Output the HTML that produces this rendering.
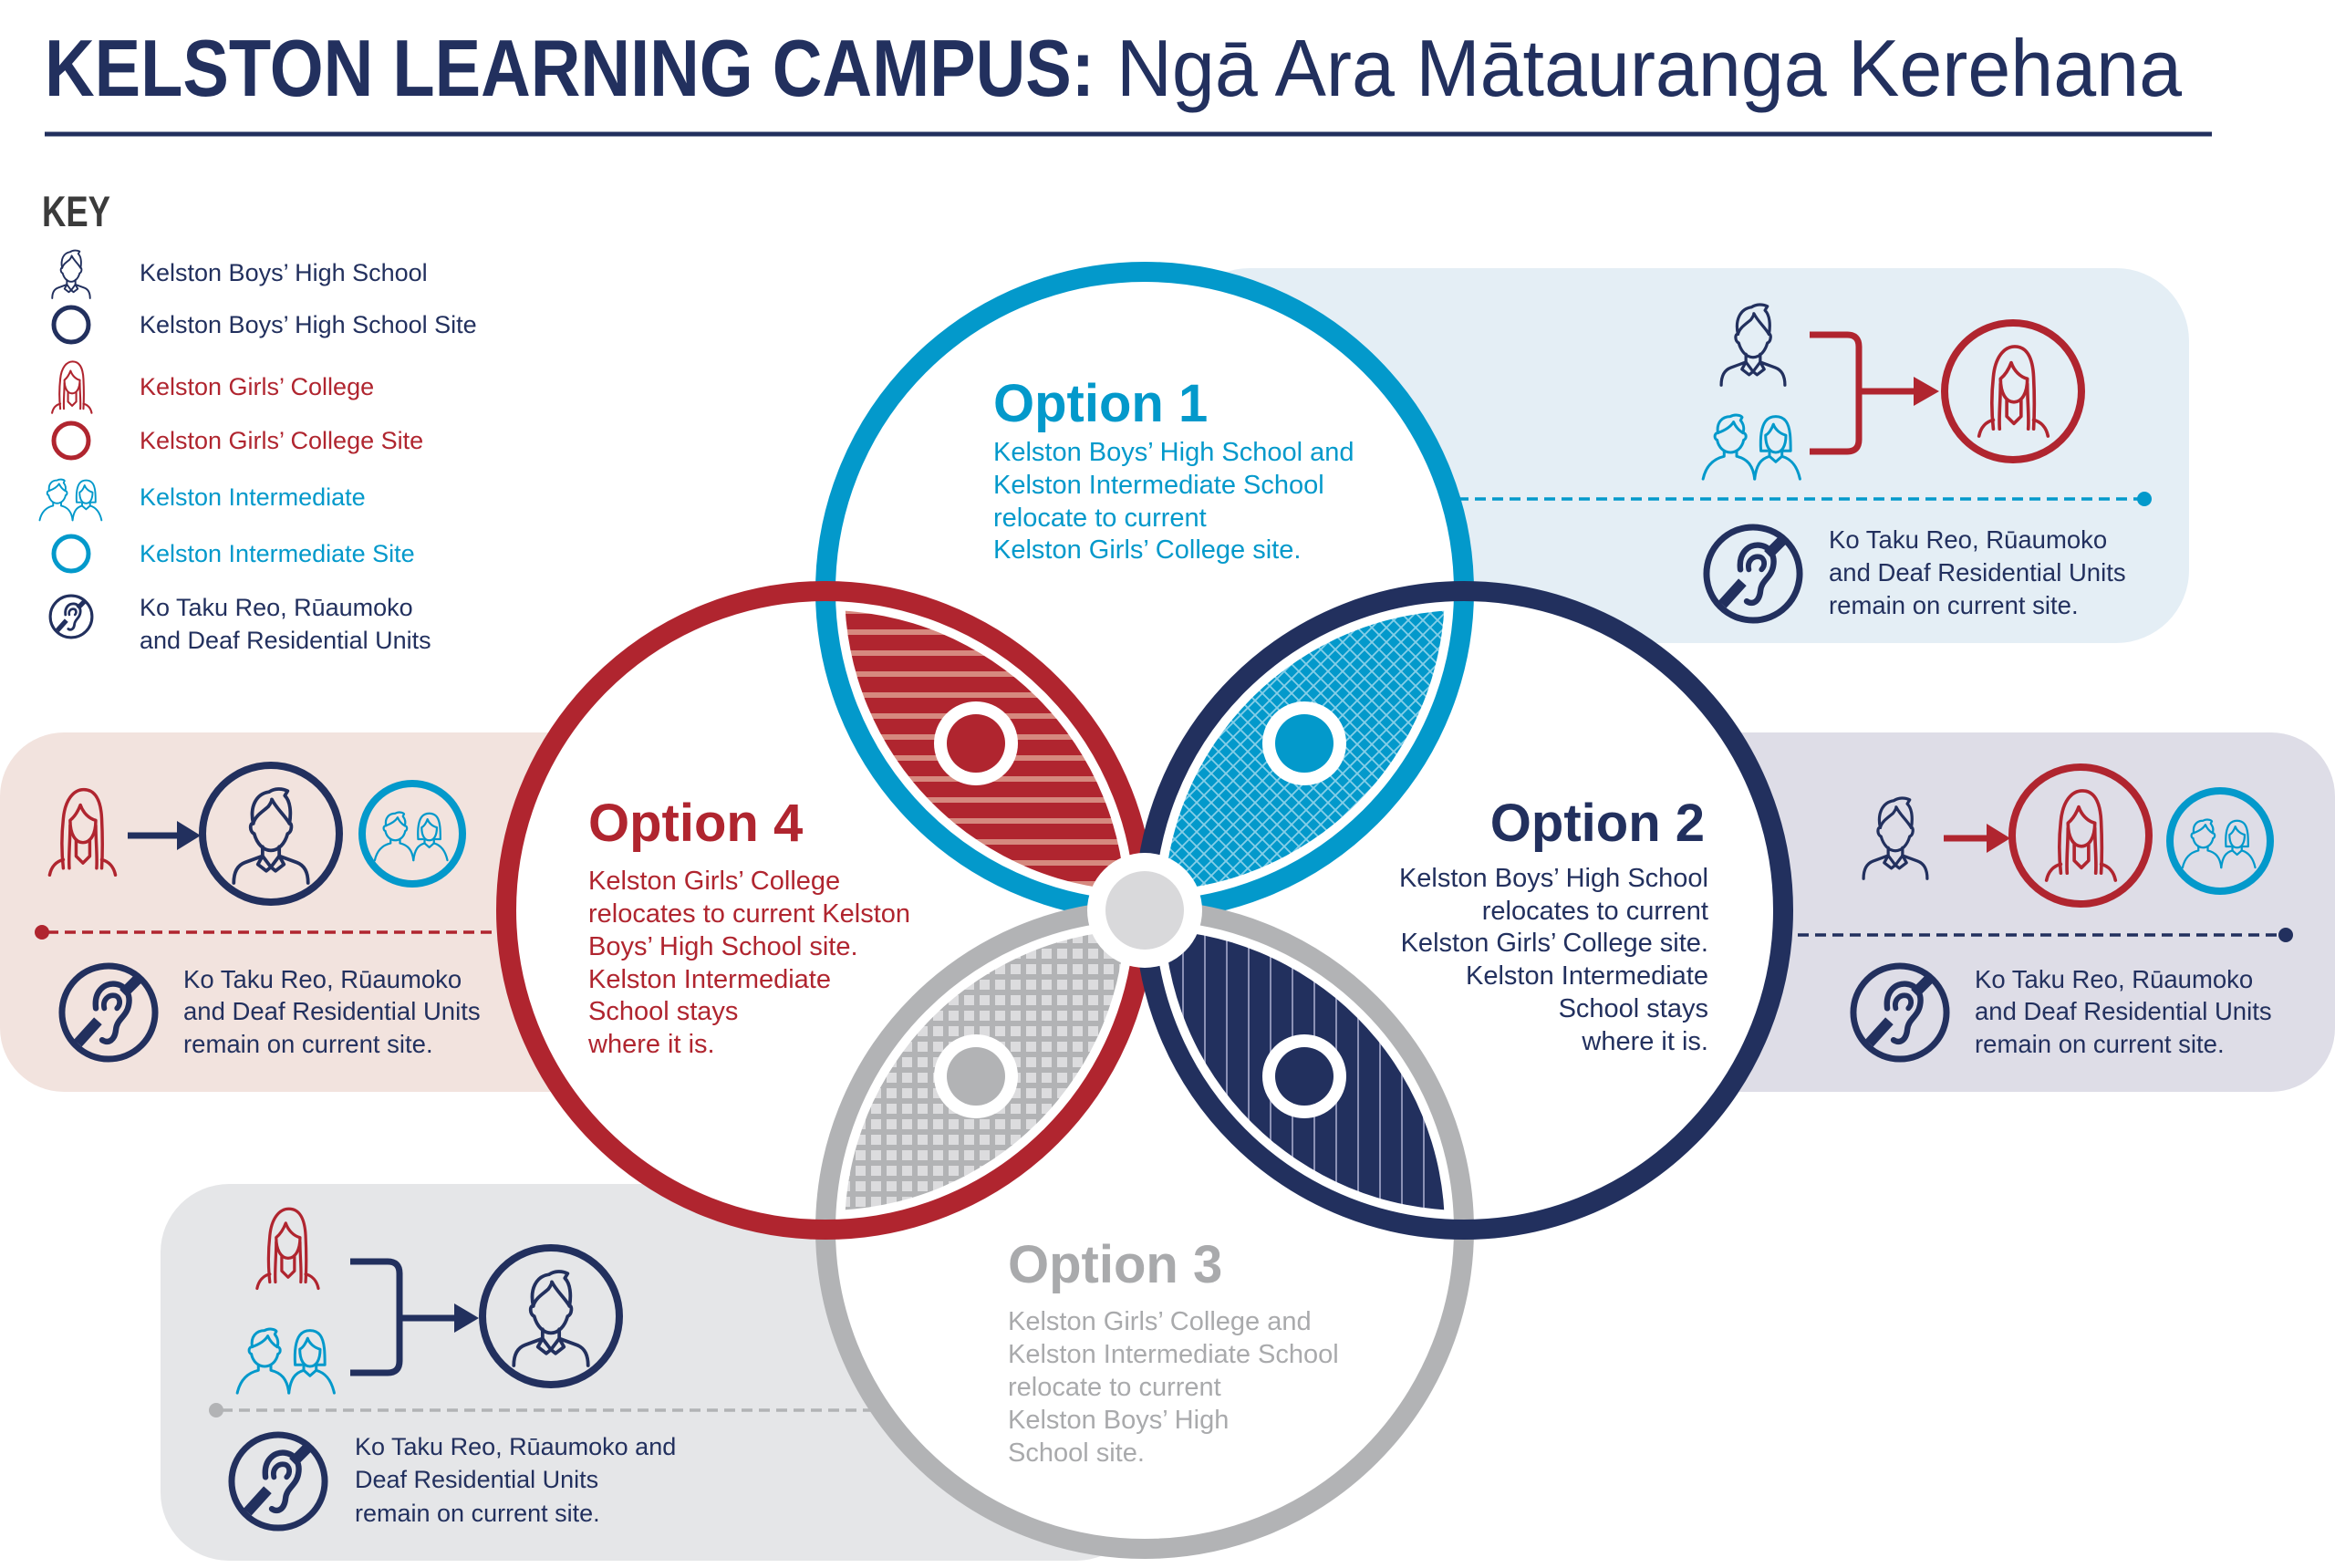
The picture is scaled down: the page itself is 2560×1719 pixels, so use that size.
<!DOCTYPE html>
<html><head><meta charset="utf-8"><title>Kelston Learning Campus</title><style>
html,body{margin:0;padding:0;background:#fff;}
svg{display:block;font-family:"Liberation Sans",sans-serif;}
</style></head><body>
<svg xmlns="http://www.w3.org/2000/svg" width="2560" height="1719" viewBox="0 0 2560 1719">
<defs>
 <symbol id="boy" viewBox="0 0 100 110" overflow="visible">
  <g fill="none" stroke="currentColor" stroke-width="3.7" stroke-linecap="round" stroke-linejoin="round">
   <path d="M31 44 C27 26 34 12 48 10 C54 6 62 6 68 9 L65 14 C71 20 72 32 70 44"/>
   <path d="M31 44 C33 36 40 32 47 26 C50 22 51 20 51 18 C56 28 64 34 70 44"/>
   <path d="M31 44 C27 43 27 53 32 55 C35 66 42 73 50 73 C58 73 65 66 68 55 C73 53 73 43 70 44"/>
   <path d="M41 69 V79 M59 69 V79"/>
   <path d="M41 79 L50 91 L59 79 M41 79 L36 88 L45 95 L50 91 L55 95 L64 88 L59 79"/>
   <path d="M41 79 L22 86 C14 89 10 96 10 108 M59 79 L78 86 C86 89 90 96 90 108"/>
  </g>
 </symbol>
 <symbol id="girl" viewBox="0 0 100 110" overflow="visible">
  <g fill="none" stroke="currentColor" stroke-width="3.7" stroke-linecap="round" stroke-linejoin="round">
   <path d="M28 98 C26 80 26 58 28 40 C30 18 40 6 52 6 C65 6 72 18 73 40 C74 60 74 80 73 98"/>
   <path d="M36 48 C36 66 34 84 35 98 M66 48 C66 66 68 84 67 98"/>
   <path d="M36 42 C36 58 42 68 51 68 C60 68 66 58 66 42 C58 40 51 33 48 24 C45 32 41 38 36 42 Z"/>
   <path d="M43 66 V84 L51 92 L59 84 V66"/>
   <path d="M28 88 C20 90 14 96 12 106 M73 88 C81 90 87 96 89 106"/>
  </g>
 </symbol>
 <symbol id="kids" viewBox="0 0 140 95" overflow="visible">
  <g fill="none" stroke="currentColor" stroke-width="3.5" stroke-linecap="round" stroke-linejoin="round">
   <path d="M24 42 C20 41 20 33 25 33 C23 20 30 12 41 12 C46 9 54 10 56 13 L54 17 C58 22 59 28 57 33 C62 33 62 41 58 42 C56 52 49 58 41 58 C33 58 26 52 24 42 Z"/>
   <path d="M25 33 C33 30 41 26 45 19 C48 26 52 30 57 33"/>
   <path d="M33 56 V63 C20 66 10 74 6 92 M49 56 V63 C62 66 70 74 72 92"/>
   <path d="M80 56 C79 40 80 26 86 18 C92 10 106 10 112 18 C118 26 118 42 118 56 H108 M80 56 H88"/>
   <path d="M86 36 C86 50 91 58 99 58 C107 58 112 50 112 36 C104 34 98 28 96 22 C94 28 90 34 86 36 Z"/>
   <path d="M91 57 V63 C80 66 74 74 72 92 M107 57 V63 C118 66 126 74 130 92"/>
   <path d="M91 63 L99 70 L107 63"/>
  </g>
 </symbol>
 <symbol id="deaf" viewBox="0 0 100 100" overflow="visible">
  <g fill="none" stroke="currentColor" stroke-linejoin="round">
   <circle cx="50" cy="50" r="44" stroke-width="6"/>
   <path d="M38 46 C36 30 46 22 56 23 C66 24 71 33 69 43 C67 54 58 56 57 66 C56 76 50 80 44 76" stroke-width="5.5" stroke-linecap="round"/>
   <path d="M46 46 C44 38 50 33 56 34 C61 35 62 42 58 46" stroke-width="5" stroke-linecap="round"/>
   <path d="M21 79 L40 58" stroke-width="10"/>
   <path d="M64 32 L79 17" stroke-width="10"/>
  </g>
 </symbol>

 <pattern id="pRed" patternUnits="userSpaceOnUse" width="23" height="23">
  <rect width="23" height="23" fill="#b0252f"/><rect y="0" width="23" height="6" fill="#d6897f"/>
 </pattern>
 <pattern id="pBlue" patternUnits="userSpaceOnUse" width="16" height="16">
  <rect width="16" height="16" fill="#0399cb"/>
  <path d="M0 0 L16 16 M16 0 L0 16" stroke="#86cfe8" stroke-width="1.8"/>
 </pattern>
 <pattern id="pNavy" patternUnits="userSpaceOnUse" width="24" height="10">
  <rect width="24" height="10" fill="#22305e"/><rect x="0" width="2" height="10" fill="#8b91b5"/>
 </pattern>
 <pattern id="pGray" patternUnits="userSpaceOnUse" width="17" height="17">
  <rect width="17" height="17" fill="#b2b3b5"/><rect x="3" y="3" width="11" height="11" fill="#dcdcde"/>
 </pattern>

 <clipPath id="cT"><circle cx="1255" cy="648" r="329"/></clipPath>
 <clipPath id="cR"><circle cx="1605" cy="998" r="329"/></clipPath>
 <clipPath id="cB"><circle cx="1255" cy="1348" r="329"/></clipPath>
 <clipPath id="cL"><circle cx="905" cy="998" r="329"/></clipPath>
</defs>

<rect width="2560" height="1719" fill="#fff"/>

<!-- Title -->
<text x="49" y="105" font-weight="bold" font-size="88" fill="#22305e" textLength="1151" lengthAdjust="spacingAndGlyphs">KELSTON LEARNING CAMPUS:</text>
<text x="1224" y="105" font-size="88" fill="#22305e" textLength="1168" lengthAdjust="spacingAndGlyphs">Ngā Ara Mātauranga Kerehana</text>
<line x1="49" y1="147" x2="2425" y2="147" stroke="#22305e" stroke-width="5"/>

<!-- Key -->
<text x="46" y="248" font-weight="bold" font-size="47" fill="#3b3b3b" textLength="75" lengthAdjust="spacingAndGlyphs">KEY</text>
<use href="#boy" x="52" y="271" width="52" height="57" color="#22305e"/>
<circle cx="78" cy="356" r="19" fill="none" stroke="#22305e" stroke-width="5"/>
<use href="#girl" x="50" y="393" width="57" height="62" color="#b0252f"/>
<circle cx="78" cy="483" r="19" fill="none" stroke="#b0252f" stroke-width="5"/>
<use href="#kids" x="39" y="520" width="79" height="52" color="#0399cb"/>
<circle cx="78" cy="607" r="19" fill="none" stroke="#0399cb" stroke-width="5"/>
<use href="#deaf" x="52" y="650" width="52" height="52" color="#22305e"/>
<g font-size="27">
 <text x="153" y="308" fill="#22305e">Kelston Boys’ High School</text>
 <text x="153" y="365" fill="#22305e">Kelston Boys’ High School Site</text>
 <text x="153" y="433" fill="#b0252f">Kelston Girls’ College</text>
 <text x="153" y="492" fill="#b0252f">Kelston Girls’ College Site</text>
 <text x="153" y="554" fill="#0399cb">Kelston Intermediate</text>
 <text x="153" y="616" fill="#0399cb">Kelston Intermediate Site</text>
 <text x="153" y="675" fill="#22305e">Ko Taku Reo, Rūaumoko</text>
 <text x="153" y="711" fill="#22305e">and Deaf Residential Units</text>
</g>

<!-- Panels -->
<rect x="1290" y="294" width="1110" height="411" rx="80" fill="#e4eef5"/>
<rect x="0" y="803" width="905" height="394" rx="70" fill="#f2e3de"/>
<rect x="1605" y="803" width="955" height="394" rx="70" fill="#dedde7"/>
<rect x="176" y="1298" width="1079" height="413" rx="75" fill="#e5e6e8"/>

<!-- Dashed lines -->
<line x1="1560" y1="547" x2="2345" y2="547" stroke="#0399cb" stroke-width="3.5" stroke-dasharray="12 7"/>
<circle cx="2351" cy="547" r="8" fill="#0399cb"/>
<line x1="52" y1="1022" x2="700" y2="1022" stroke="#b0252f" stroke-width="3.5" stroke-dasharray="12 7"/>
<circle cx="46" cy="1022" r="8" fill="#b0252f"/>
<line x1="1800" y1="1025" x2="2500" y2="1025" stroke="#22305e" stroke-width="3.5" stroke-dasharray="12 7"/>
<circle cx="2506" cy="1025" r="8" fill="#22305e"/>
<line x1="243" y1="1546" x2="1000" y2="1546" stroke="#b2b3b5" stroke-width="3.5" stroke-dasharray="12 7"/>
<circle cx="237" cy="1546" r="8" fill="#b2b3b5"/>

<!-- Circle white fills -->
<g fill="#fff">
 <circle cx="1255" cy="648" r="355"/>
 <circle cx="1605" cy="998" r="355"/>
 <circle cx="1255" cy="1348" r="355"/>
 <circle cx="905" cy="998" r="355"/>
</g>

<!-- Lenses -->
<g clip-path="url(#cT)"><g clip-path="url(#cL)"><rect x="880" y="620" width="400" height="400" fill="url(#pRed)"/></g></g>
<g clip-path="url(#cT)"><g clip-path="url(#cR)"><rect x="1230" y="620" width="400" height="400" fill="url(#pBlue)"/></g></g>
<g clip-path="url(#cB)"><g clip-path="url(#cR)"><rect x="1230" y="975" width="400" height="400" fill="url(#pNavy)"/></g></g>
<g clip-path="url(#cB)"><g clip-path="url(#cL)"><rect x="880" y="975" width="400" height="400" fill="url(#pGray)"/></g></g>

<!-- Strokes: blue & gray under, red & navy over -->
<g fill="none" stroke-width="22">
 <circle cx="1255" cy="648" r="350" stroke="#0399cb"/>
 <circle cx="1255" cy="1348" r="350" stroke="#b2b3b5"/>
 <circle cx="905" cy="998" r="350" stroke="#b0252f"/>
 <circle cx="1605" cy="998" r="350" stroke="#22305e"/>
</g>

<!-- Center disc -->
<circle cx="1255" cy="998" r="63" fill="#fff"/>
<circle cx="1255" cy="998" r="43" fill="#d9d9db"/>

<!-- Lens dots -->
<g>
 <circle cx="1070" cy="815" r="46" fill="#fff"/><circle cx="1070" cy="815" r="32" fill="#b0252f"/>
 <circle cx="1430" cy="815" r="46" fill="#fff"/><circle cx="1430" cy="815" r="32" fill="#0399cb"/>
 <circle cx="1430" cy="1180" r="46" fill="#fff"/><circle cx="1430" cy="1180" r="32" fill="#22305e"/>
 <circle cx="1070" cy="1180" r="46" fill="#fff"/><circle cx="1070" cy="1180" r="32" fill="#b2b3b5"/>
</g>

<!-- Option texts -->
<g fill="#0399cb">
 <text x="1089" y="462" font-weight="bold" font-size="58">Option 1</text>
 <g font-size="29">
  <text x="1089" y="505">Kelston Boys’ High School and</text>
  <text x="1089" y="541">Kelston Intermediate School</text>
  <text x="1089" y="577">relocate to current</text>
  <text x="1089" y="612">Kelston Girls’ College site.</text>
 </g>
</g>
<g fill="#22305e" text-anchor="end">
 <text x="1869" y="922" font-weight="bold" font-size="58">Option 2</text>
 <g font-size="29">
  <text x="1873" y="972">Kelston Boys’ High School</text>
  <text x="1873" y="1008">relocates to current</text>
  <text x="1873" y="1043">Kelston Girls’ College site.</text>
  <text x="1873" y="1079">Kelston Intermediate</text>
  <text x="1873" y="1115">School stays</text>
  <text x="1873" y="1151">where it is.</text>
 </g>
</g>
<g fill="#a9aaac">
 <text x="1105" y="1406" font-weight="bold" font-size="58">Option 3</text>
 <g font-size="29">
  <text x="1105" y="1458">Kelston Girls’ College and</text>
  <text x="1105" y="1494">Kelston Intermediate School</text>
  <text x="1105" y="1530">relocate to current</text>
  <text x="1105" y="1566">Kelston Boys’ High</text>
  <text x="1105" y="1602">School site.</text>
 </g>
</g>
<g fill="#b0252f">
 <text x="645" y="922" font-weight="bold" font-size="58">Option 4</text>
 <g font-size="29">
  <text x="645" y="975">Kelston Girls’ College</text>
  <text x="645" y="1011">relocates to current Kelston</text>
  <text x="645" y="1047">Boys’ High School site.</text>
  <text x="645" y="1083">Kelston Intermediate</text>
  <text x="645" y="1118">School stays</text>
  <text x="645" y="1154">where it is.</text>
 </g>
</g>

<!-- Top-right panel content -->
<use href="#boy" x="1878" y="328" width="88" height="96" color="#22305e"/>
<use href="#kids" x="1862" y="446" width="120" height="82" color="#0399cb"/>
<path d="M1984 367 H2025 Q2038 367 2038 380 V482 Q2038 495 2025 495 H1984" fill="none" stroke="#b0252f" stroke-width="7"/>
<line x1="2038" y1="429" x2="2102" y2="429" stroke="#b0252f" stroke-width="7"/>
<polygon points="2098,413 2126,429 2098,445" fill="#b0252f"/>
<circle cx="2207" cy="429" r="75" fill="none" stroke="#b0252f" stroke-width="8"/>
<use href="#girl" x="2157" y="374" width="100" height="108" color="#b0252f"/>
<use href="#deaf" x="1864" y="571" width="116" height="116" color="#22305e"/>
<g font-size="27.5" fill="#22305e">
 <text x="2005" y="601">Ko Taku Reo, Rūaumoko</text>
 <text x="2005" y="637">and Deaf Residential Units</text>
 <text x="2005" y="673">remain on current site.</text>
</g>

<!-- Left panel content -->
<use href="#girl" x="43" y="860" width="94" height="103" color="#b0252f"/>
<line x1="140" y1="916" x2="198" y2="916" stroke="#22305e" stroke-width="7"/>
<polygon points="194,900 220,916 194,932" fill="#22305e"/>
<circle cx="297" cy="914" r="75" fill="none" stroke="#22305e" stroke-width="8"/>
<use href="#boy" x="246" y="858" width="102" height="112" color="#22305e"/>
<circle cx="452" cy="914" r="55" fill="none" stroke="#0399cb" stroke-width="8"/>
<use href="#kids" x="407" y="884" width="90" height="61" color="#0399cb"/>
<use href="#deaf" x="61" y="1052" width="116" height="116" color="#22305e"/>
<g font-size="27.5" fill="#22305e">
 <text x="201" y="1083">Ko Taku Reo, Rūaumoko</text>
 <text x="201" y="1118">and Deaf Residential Units</text>
 <text x="201" y="1154">remain on current site.</text>
</g>

<!-- Right panel content -->
<use href="#boy" x="2034" y="869" width="88" height="96" color="#22305e"/>
<line x1="2131" y1="919" x2="2182" y2="919" stroke="#b0252f" stroke-width="7"/>
<polygon points="2178,903 2204,919 2178,935" fill="#b0252f"/>
<circle cx="2281" cy="916" r="75" fill="none" stroke="#b0252f" stroke-width="8"/>
<use href="#girl" x="2231" y="861" width="100" height="108" color="#b0252f"/>
<circle cx="2434" cy="922" r="55" fill="none" stroke="#0399cb" stroke-width="8"/>
<use href="#kids" x="2389" y="892" width="90" height="61" color="#0399cb"/>
<use href="#deaf" x="2025" y="1052" width="116" height="116" color="#22305e"/>
<g font-size="27.5" fill="#22305e">
 <text x="2165" y="1083">Ko Taku Reo, Rūaumoko</text>
 <text x="2165" y="1118">and Deaf Residential Units</text>
 <text x="2165" y="1154">remain on current site.</text>
</g>

<!-- Bottom panel content -->
<use href="#girl" x="271" y="1320" width="88" height="96" color="#b0252f"/>
<use href="#kids" x="255" y="1448" width="120" height="82" color="#0399cb"/>
<path d="M384 1383 H425 Q438 1383 438 1396 V1492 Q438 1505 425 1505 H384" fill="none" stroke="#22305e" stroke-width="7"/>
<line x1="438" y1="1445" x2="502" y2="1445" stroke="#22305e" stroke-width="7"/>
<polygon points="498,1429 525,1445 498,1461" fill="#22305e"/>
<circle cx="604" cy="1443" r="75" fill="none" stroke="#22305e" stroke-width="8"/>
<use href="#boy" x="553" y="1387" width="102" height="112" color="#22305e"/>
<use href="#deaf" x="247" y="1566" width="116" height="116" color="#22305e"/>
<g font-size="27" fill="#22305e">
 <text x="389" y="1595">Ko Taku Reo, Rūaumoko and</text>
 <text x="389" y="1631">Deaf Residential Units</text>
 <text x="389" y="1668">remain on current site.</text>
</g>
</svg>
</body></html>
